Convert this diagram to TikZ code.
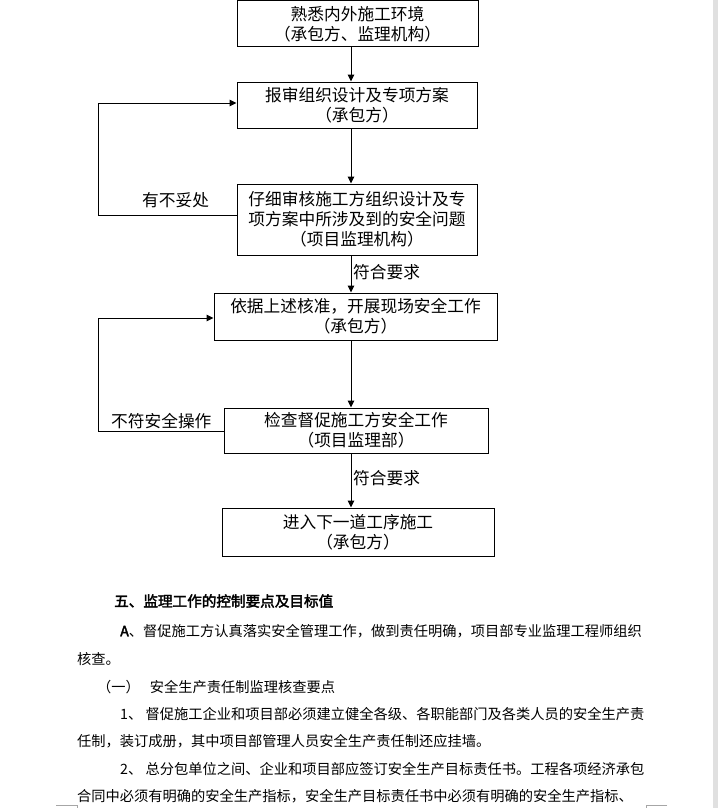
\documentclass[tikz,border=0pt]{standalone}
\usepackage{fontspec}
\setmainfont{Noto Sans CJK SC}
\newfontfamily\cjkbold[FakeBold=2.5]{Noto Sans CJK SC}
\usetikzlibrary{arrows.meta}
\begin{document}
\begin{tikzpicture}[x=1pt,y=-1pt,
  flowbox/.style={draw,line width=1pt,inner sep=0pt,align=center,
    font=\fontsize{16.7}{20}\selectfont},
  flowlabel/.style={anchor=west,inner sep=0pt,font=\fontsize{16.7}{20}\selectfont},
  conn/.style={line width=1pt,-{Triangle[length=7pt,width=6.5pt]}},
  bodyline/.style={anchor=west,inner sep=0pt,font=\fontsize{14.25}{18}\selectfont},
  headline/.style={anchor=west,inner sep=0pt,font=\cjkbold\fontsize{14.6}{18}\selectfont}]
\useasboundingbox (0,0) rectangle (718,808);
\fill[white] (0,0) rectangle (718,808);
% right gray page band
\fill[black!12] (713,0) rectangle (718,808);
% boxes
\node[flowbox,minimum width=241pt,minimum height=46pt] (b1) at (357.5,24)
  {熟悉内外施工环境\\（承包方、监理机构）};
\node[flowbox,minimum width=240pt,minimum height=46pt] (b2) at (357,105)
  {报审组织设计及专项方案\\（承包方）};
\node[flowbox,minimum width=240pt,minimum height=71pt] (b3) at (357,219.5)
  {仔细审核施工方组织设计及专\\项方案中所涉及到的安全问题\\（项目监理机构）};
\node[flowbox,minimum width=283pt,minimum height=47pt] (b4) at (355.5,316.5)
  {依据上述核准，开展现场安全工作\\（承包方）};
\node[flowbox,minimum width=264pt,minimum height=45pt] (b5) at (356,430.5)
  {检查督促施工方安全工作\\（项目监理部）};
\node[flowbox,minimum width=272pt,minimum height=48pt] (b6) at (358,532)
  {进入下一道工序施工\\（承包方）};
% arrow axis
\coordinate (ax) at (351,0);
\draw[conn] (b1.south -| ax) -- (b2.north -| ax);
\draw[conn] (b2.south -| ax) -- (b3.north -| ax);
\draw[conn] (b3.south -| ax) -- (b4.north -| ax);
\draw[conn] (b4.south -| ax) -- (b5.north -| ax);
\draw[conn] (b5.south -| ax) -- (b6.north -| ax);
% feedback loops
\coordinate (l1a) at (98,215);
\coordinate (l1b) at (98,103);
\draw[conn] (b3.west |- l1a) -- (l1a) -- (l1b) -- (b2.west |- l1b);
\coordinate (l2a) at (98,431);
\coordinate (l2b) at (98,318);
\draw[conn] (b5.west |- l2a) -- (l2a) -- (l2b) -- (b4.west |- l2b);
% labels
\node[flowlabel] (t1) at (142,200) {有不妥处};
\node[flowlabel] (t2) at (353,272) {符合要求};
\node[flowlabel] (t3) at (111,421) {不符安全操作};
\node[flowlabel] (t4) at (353,478) {符合要求};
% body text
\node[headline] (h1) at (114,601) {五、监理工作的控制要点及目标值};
\node[bodyline] (p1) at (120,631) {{\cjkbold A}、督促施工方认真落实安全管理工作，做到责任明确，项目部专业监理工程师组织};
\node[bodyline] (p2) at (77,659) {核查。};
\node[bodyline] (p3) at (97,687) {（一）\hspace{10pt}安全生产责任制监理核查要点};
\node[bodyline] (p4) at (120,714) {1、 督促施工企业和项目部必须建立健全各级、各职能部门及各类人员的安全生产责};
\node[bodyline] (p5) at (77,741) {任制，装订成册，其中项目部管理人员安全生产责任制还应挂墙。};
\node[bodyline] (p6) at (120,769) {2、 总分包单位之间、企业和项目部应签订安全生产目标责任书。工程各项经济承包};
\node[bodyline] (p7) at (77,796) {合同中必须有明确的安全生产指标，安全生产目标责任书中必须有明确的安全生产指标、};
% page corner marks
\draw[black!35,line width=0.8pt] (56,805) -- (77,805) -- (77,808);
\draw[black!35,line width=0.8pt] (667,805) -- (646,805) -- (646,808);
\end{tikzpicture}
\end{document}
